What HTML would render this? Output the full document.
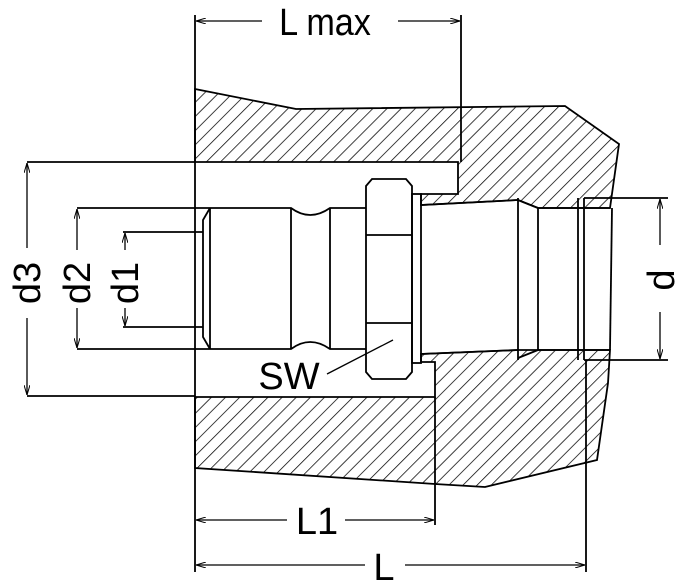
<!DOCTYPE html>
<html><head><style>
html,body{margin:0;padding:0;background:#fff;}
svg{display:block;}
text{font-family:"Liberation Sans Narrow","Liberation Sans",sans-serif;fill:#000;}
</style></head><body>
<svg width="700" height="581" viewBox="0 0 700 581" xmlns="http://www.w3.org/2000/svg">
<defs>
<pattern id="h" patternUnits="userSpaceOnUse" width="10" height="10" patternTransform="rotate(45)">
<line x1="0" y1="0" x2="0" y2="10" stroke="#000" stroke-width="1.5"/>
</pattern>
<marker id="a" markerWidth="10" markerHeight="6" refX="10" refY="3" orient="auto" markerUnits="userSpaceOnUse">
<path d="M0,0 L10,3 L0,6" fill="none" stroke="#000" stroke-width="1"/>
</marker>
</defs>
<g stroke="#000" stroke-width="1.8" fill="none">
<polygon fill="url(#h)" points="195,89 296,109 565,106 619,144 610,208 538,208 518,200 421,205 421,194 458,194 458,162 195,162"/>
<polygon fill="url(#h)" points="195,397 435,397 435,362 421,362 421,354 518,350 610,350 608,383 597,460 485,487 435,484 195,468"/>
<path d="M210,208 L291,208 Q310,222 330,208 L366,208 M210,349 L291,349 Q310,335 330,349 L366,349"/>
<line x1="210" y1="208" x2="210" y2="349"/>
<path d="M210,208 L203,220 L203,337 L210,349"/>
<line x1="291" y1="208" x2="291" y2="349"/>
<line x1="330" y1="208" x2="330" y2="349"/>
<path d="M372,179 L406,179 L412,186 L412,372 L406,379 L372,379 L366,372 L366,186 Z"/>
<line x1="366" y1="235" x2="412" y2="235"/>
<line x1="366" y1="323" x2="412" y2="323"/>
<rect x="412" y="194" width="9" height="169"/>
<line x1="421" y1="205" x2="518" y2="200"/>
<line x1="421" y1="354" x2="518" y2="350"/>
<line x1="518" y1="198" x2="518" y2="360"/>
<line x1="538" y1="208" x2="538" y2="350"/>
<line x1="518" y1="200" x2="538" y2="208"/>
<line x1="518" y1="358" x2="538" y2="350"/>
<line x1="578" y1="198" x2="578" y2="360"/>
<line x1="584" y1="198" x2="584" y2="360"/>
<line x1="538" y1="208" x2="610" y2="208"/>
<line x1="538" y1="350" x2="610" y2="350"/>
<line x1="612" y1="208" x2="610" y2="350"/>
<line x1="195" y1="15" x2="195" y2="572"/>
<line x1="461" y1="15" x2="461" y2="162"/>
<line x1="435" y1="397" x2="435" y2="525"/>
<line x1="586" y1="360" x2="586" y2="572"/>
<line x1="27" y1="162" x2="195" y2="162"/>
<line x1="27" y1="396" x2="195" y2="396"/>
<line x1="77" y1="208" x2="210" y2="208"/>
<line x1="77" y1="349" x2="210" y2="349"/>
<line x1="123" y1="232" x2="203" y2="232"/>
<line x1="123" y1="327" x2="203" y2="327"/>
<line x1="584" y1="198" x2="668" y2="198"/>
<line x1="584" y1="360" x2="668" y2="360"/>
<line x1="327" y1="374" x2="393" y2="340" stroke-width="1.3"/>
</g>
<g stroke="#000" stroke-width="1.3" fill="none">
<line x1="262" y1="21" x2="196" y2="21" marker-end="url(#a)"/>
<line x1="398" y1="21" x2="460" y2="21" marker-end="url(#a)"/>
<line x1="287" y1="520" x2="196" y2="520" marker-end="url(#a)"/>
<line x1="345" y1="520" x2="434" y2="520" marker-end="url(#a)"/>
<line x1="365" y1="565" x2="196" y2="565" marker-end="url(#a)"/>
<line x1="405" y1="565" x2="585" y2="565" marker-end="url(#a)"/>
<line x1="27" y1="248" x2="27" y2="163" marker-end="url(#a)"/>
<line x1="27" y1="318" x2="27" y2="395" marker-end="url(#a)"/>
<line x1="77" y1="250" x2="77" y2="209" marker-end="url(#a)"/>
<line x1="77" y1="308" x2="77" y2="348" marker-end="url(#a)"/>
<line x1="125" y1="250" x2="125" y2="233" marker-end="url(#a)"/>
<line x1="125" y1="308" x2="125" y2="326" marker-end="url(#a)"/>
<line x1="660" y1="245" x2="660" y2="199" marker-end="url(#a)"/>
<line x1="660" y1="312" x2="660" y2="359" marker-end="url(#a)"/>
</g>
<text x="325" y="35" font-size="38" text-anchor="middle" transform="translate(325,0) scale(0.9,1) translate(-325,0)">L max</text>
<text x="317" y="534" font-size="38" text-anchor="middle">L1</text>
<text x="384" y="580" font-size="38" text-anchor="middle">L</text>
<text x="289" y="389" font-size="38" text-anchor="middle">SW</text>
<text transform="translate(40,283) rotate(-90)" font-size="38" text-anchor="middle">d3</text>
<text transform="translate(90,283) rotate(-90)" font-size="38" text-anchor="middle">d2</text>
<text transform="translate(138,283) rotate(-90)" font-size="38" text-anchor="middle">d1</text>
<text transform="translate(674,280) rotate(-90)" font-size="38" text-anchor="middle">d</text>
</svg>
</body></html>
